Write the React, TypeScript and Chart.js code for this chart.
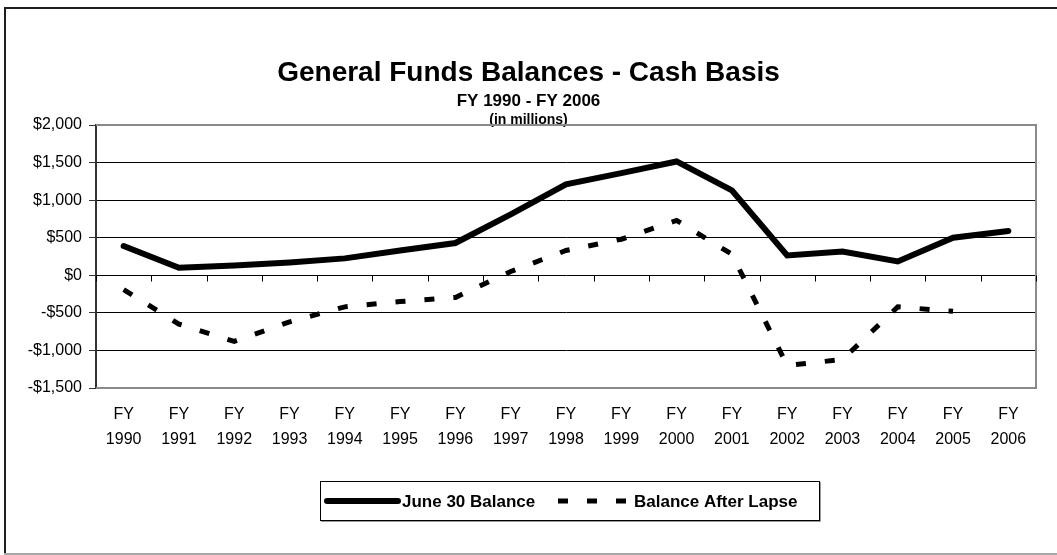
import React, { useEffect, useRef } from "react";
import { Chart, registerables } from "chart.js";

Chart.register(...registerables);

// ---- data ----
const years = ["1990", "1991", "1992", "1993", "1994", "1995", "1996", "1997", "1998", "1999", "2000", "2001", "2002", "2003", "2004", "2005", "2006"];
const june30Balance = [390, 100, 130, 170, 225, 330, 430, 810, 1210, 1360, 1515, 1130, 265, 315, 185, 500, 590];
const balanceAfterLapse = [-190, -650, -880, -620, -420, -350, -295, 50, 330, 480, 730, 280, -1200, -1120, -420, -480, null];
const seriesNames = ["June 30 Balance", "Balance After Lapse"];
const yMin = -1500;
const yMax = 2000;
const yStep = 500;
const titleText = "General Funds Balances - Cash Basis";
const subtitleText = "FY 1990 - FY 2006";
const unitText = "(in millions)";

const FONT = "'Liberation Sans', Arial, sans-serif";

const fmtMoney = (v: number) => (v < 0 ? "-" : "") + "$" + Math.abs(v).toLocaleString("en-US");

const decorPlugin = {
  id: "decor",
  beforeDraw(chart: any) {
    const ctx = chart.ctx as CanvasRenderingContext2D;
    const W = chart.width;
    ctx.save();
    ctx.fillStyle = "#ffffff";
    ctx.fillRect(0, 0, chart.width, chart.height);
    // outer frame
    ctx.strokeStyle = "#1e1e1e";
    ctx.lineWidth = 2;
    ctx.beginPath();
    ctx.moveTo(5, chart.height);
    ctx.lineTo(5, 8);
    ctx.lineTo(W, 8);
    ctx.stroke();
    ctx.strokeStyle = "#a8a8a8";
    ctx.beginPath();
    ctx.moveTo(4, 554);
    ctx.lineTo(W, 554);
    ctx.stroke();
    // titles
    const cx = W / 2;
    ctx.fillStyle = "#000";
    ctx.textAlign = "center";
    ctx.textBaseline = "middle";
    ctx.font = `bold 28px ${FONT}`;
    ctx.fillText(titleText, cx, 73);
    ctx.font = `bold 17px ${FONT}`;
    ctx.fillText(subtitleText, cx, 101);
    ctx.font = `bold 14px ${FONT}`;
    ctx.fillText(unitText, cx, 120);
    ctx.restore();
  },
  beforeDatasetsDraw(chart: any) {
    const ctx = chart.ctx as CanvasRenderingContext2D;
    const a = chart.chartArea;
    const ys = chart.scales.y;
    ctx.save();
    // gray plot frame (top, right, bottom)
    ctx.strokeStyle = "#8a8a8a";
    ctx.lineWidth = 2;
    ctx.beginPath();
    ctx.moveTo(a.left, a.top);
    ctx.lineTo(a.right, a.top);
    ctx.lineTo(a.right, a.bottom);
    ctx.lineTo(a.left, a.bottom);
    ctx.stroke();
    // category tick marks on the zero line
    const y0 = Math.round(ys.getPixelForValue(0)) + 0.5;
    const n = years.length;
    const cw = (a.right - a.left) / n;
    ctx.strokeStyle = "#000";
    ctx.lineWidth = 1;
    ctx.beginPath();
    for (let i = 0; i <= n; i++) {
      const x = Math.round(a.left + i * cw) + 0.5;
      ctx.moveTo(x, y0);
      ctx.lineTo(x, y0 + 6);
    }
    ctx.stroke();
    ctx.restore();
  },
  afterDraw(chart: any) {
    const ctx = chart.ctx as CanvasRenderingContext2D;
    ctx.save();
    // legend box
    const bx = 320, by = 481, bw = 499, bh = 39;
    ctx.strokeStyle = "#000";
    ctx.lineWidth = 1;
    ctx.strokeRect(bx + 0.5, by + 0.5, bw, bh);
    ctx.strokeStyle = "#9a9a9a";
    ctx.beginPath();
    ctx.moveTo(bx + 1, by + bh + 1.5);
    ctx.lineTo(bx + bw + 1.5, by + bh + 1.5);
    ctx.lineTo(bx + bw + 1.5, by + 1);
    ctx.stroke();
    const cy = by + bh / 2 + 0.5;
    const ds = chart.data.datasets;
    ctx.font = `bold 17px ${FONT}`;
    ctx.fillStyle = "#000";
    ctx.textBaseline = "middle";
    ctx.textAlign = "left";
    // item 1
    ctx.strokeStyle = ds[0].borderColor;
    ctx.lineWidth = ds[0].borderWidth;
    ctx.lineCap = "round";
    ctx.setLineDash([]);
    ctx.beginPath();
    ctx.moveTo(327, cy);
    ctx.lineTo(398, cy);
    ctx.stroke();
    ctx.fillText(ds[0].label, 402, cy + 1);
    // item 2
    ctx.strokeStyle = ds[1].borderColor;
    ctx.lineWidth = ds[1].borderWidth;
    ctx.lineCap = "butt";
    ctx.setLineDash(ds[1].borderDash);
    ctx.beginPath();
    ctx.moveTo(558, cy);
    ctx.lineTo(626, cy);
    ctx.stroke();
    ctx.setLineDash([]);
    ctx.fillText(ds[1].label, 634, cy + 1);
    ctx.restore();
  },
};

export default function App() {
  const ref = useRef<HTMLCanvasElement | null>(null);
  useEffect(() => {
    if (!ref.current) return;
    Chart.defaults.font.family = FONT;
    Chart.defaults.color = "#000";
    const chart = new Chart(ref.current, {
      type: "line",
      data: {
        labels: years.map((y) => ["FY", y]),
        datasets: [
          {
            label: seriesNames[0],
            data: june30Balance,
            borderColor: "#000",
            backgroundColor: "#000",
            borderWidth: 6,
            borderCapStyle: "round",
            borderJoinStyle: "miter",
            pointRadius: 0,
            tension: 0,
            fill: false,
          },
          {
            label: seriesNames[1],
            data: balanceAfterLapse,
            borderColor: "#000",
            backgroundColor: "#000",
            borderWidth: 5,
            borderDash: [10, 19],
            borderCapStyle: "butt",
            pointRadius: 0,
            tension: 0,
            fill: false,
            spanGaps: false,
          },
        ],
      },
      options: {
        responsive: false,
        animation: false,
        layout: { padding: { left: 4, right: 21, top: 125, bottom: 0 } },
        plugins: {
          legend: { display: false },
          title: { display: false },
          tooltip: { enabled: false },
        },
        scales: {
          x: {
            type: "category",
            offset: true,
            grid: { display: true, drawOnChartArea: false, drawTicks: false, color: "rgba(0,0,0,0)" },
            border: { display: false },
            ticks: {
              font: { size: 16, lineHeight: 1.55 },
              color: "#000",
              padding: 14,
              maxRotation: 0,
              autoSkip: false,
            },
            afterFit: (s: any) => {
              s.height = 167;
            },
          },
          y: {
            min: yMin,
            max: yMax,
            ticks: {
              stepSize: yStep,
              font: { size: 16 },
              color: "#000",
              padding: 7,
              callback: (v: any) => fmtMoney(Number(v)),
            },
            grid: {
              color: (c: any) =>
                c.tick && (c.tick.value === yMax || c.tick.value === yMin) ? "rgba(0,0,0,0)" : "#000",
              lineWidth: 1,
              tickColor: "#333",
              tickLength: 7,
            },
            border: { display: true, color: "#333", width: 2 },
            afterFit: (s: any) => {
              s.width = 92;
            },
          },
        },
      },
      plugins: [decorPlugin],
    } as any);
    return () => chart.destroy();
  }, []);
  return (
    <div style={{ position: "fixed", left: 0, top: 0, width: 1057, height: 555, background: "#fff" }}>
      <canvas ref={ref} width={1057} height={555} style={{ display: "block" }} />
    </div>
  );
}
